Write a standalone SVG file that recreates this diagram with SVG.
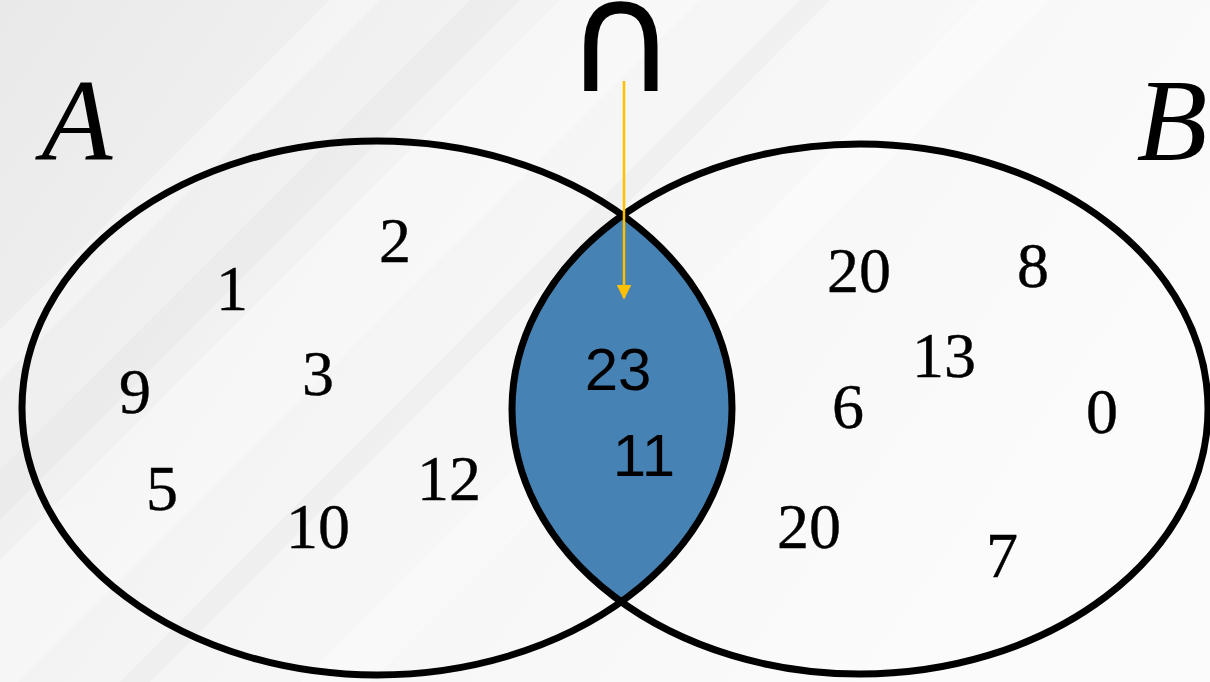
<svg xmlns="http://www.w3.org/2000/svg" width="1210" height="682" viewBox="0 0 1210 682">
<defs>
<linearGradient id="bg" x1="0" y1="0" x2="1" y2="0.4">
<stop offset="0" stop-color="#e9e9e9"/>
<stop offset="0.45" stop-color="#f5f5f5"/>
<stop offset="1" stop-color="#fbfbfb"/>
</linearGradient>
<clipPath id="clipB"><ellipse cx="860" cy="409" rx="348" ry="265"/></clipPath>
<marker id="arr" viewBox="0 0 10 10" refX="9" refY="5" markerWidth="6" markerHeight="6" markerUnits="strokeWidth" orient="auto">
<path d="M0,0 L10,5 L0,10 z" fill="#FFC000"/>
</marker>
<style>
.ring{fill:none;stroke:#000;stroke-width:7}
.num{font-family:"Liberation Serif","Times New Roman",serif;font-size:64px;fill:#000;stroke:#000;stroke-width:0.4;text-anchor:middle}
.sans{font-family:"Liberation Sans",Arial,sans-serif;font-size:60px;fill:#000;text-anchor:middle}
.lbl{font-family:"Liberation Serif","Times New Roman",serif;font-style:italic;font-size:116px;fill:#000;text-anchor:middle}
</style>
</defs>
<rect width="1210" height="682" fill="url(#bg)"/>
<g fill="#ffffff" opacity="0.35">
<polygon points="0,560 560,0 700,0 0,700"/>
<polygon points="0,330 330,0 380,0 0,380"/>
<polygon points="300,682 980,0 1050,0 370,682"/>
</g>
<g fill="#e0e0e0" opacity="0.25">
<polygon points="0,470 470,0 520,0 0,520"/>
<polygon points="120,682 800,0 830,0 150,682"/>
</g>
<g id="intersection">
<ellipse cx="377" cy="408" rx="355" ry="267" fill="#4682B4" clip-path="url(#clipB)"/>
<text class="sans" x="618" y="390">23</text>
<text class="sans" x="644" y="476">11</text>
</g>
<g id="setA">
<ellipse class="ring" cx="377" cy="408" rx="355" ry="267"/>
<text class="lbl" x="77" y="160">A</text>
<text class="num" x="395" y="262">2</text>
<text class="num" x="232" y="310">1</text>
<text class="num" x="135" y="413">9</text>
<text class="num" x="318" y="395">3</text>
<text class="num" x="162" y="510">5</text>
<text class="num" x="318" y="548">10</text>
<text class="num" x="449" y="500">12</text>
</g>
<g id="setB">
<ellipse class="ring" cx="860" cy="409" rx="348" ry="265"/>
<text class="lbl" x="1172" y="160">B</text>
<text class="num" x="859" y="292">20</text>
<text class="num" x="1033" y="287">8</text>
<text class="num" x="944" y="377">13</text>
<text class="num" x="848" y="428">6</text>
<text class="num" x="1102" y="433">0</text>
<text class="num" x="809" y="548">20</text>
<text class="num" x="1002" y="577">7</text>
</g>
<g id="symbol">
<text x="621" y="91" font-family="DejaVu Sans, sans-serif" font-size="155" text-anchor="middle" fill="#000">∩</text>
</g>
<g id="connectors">
<line x1="624" y1="81" x2="624" y2="298" stroke="#FFC000" stroke-width="2.5" marker-end="url(#arr)"/>
</g>
</svg>
